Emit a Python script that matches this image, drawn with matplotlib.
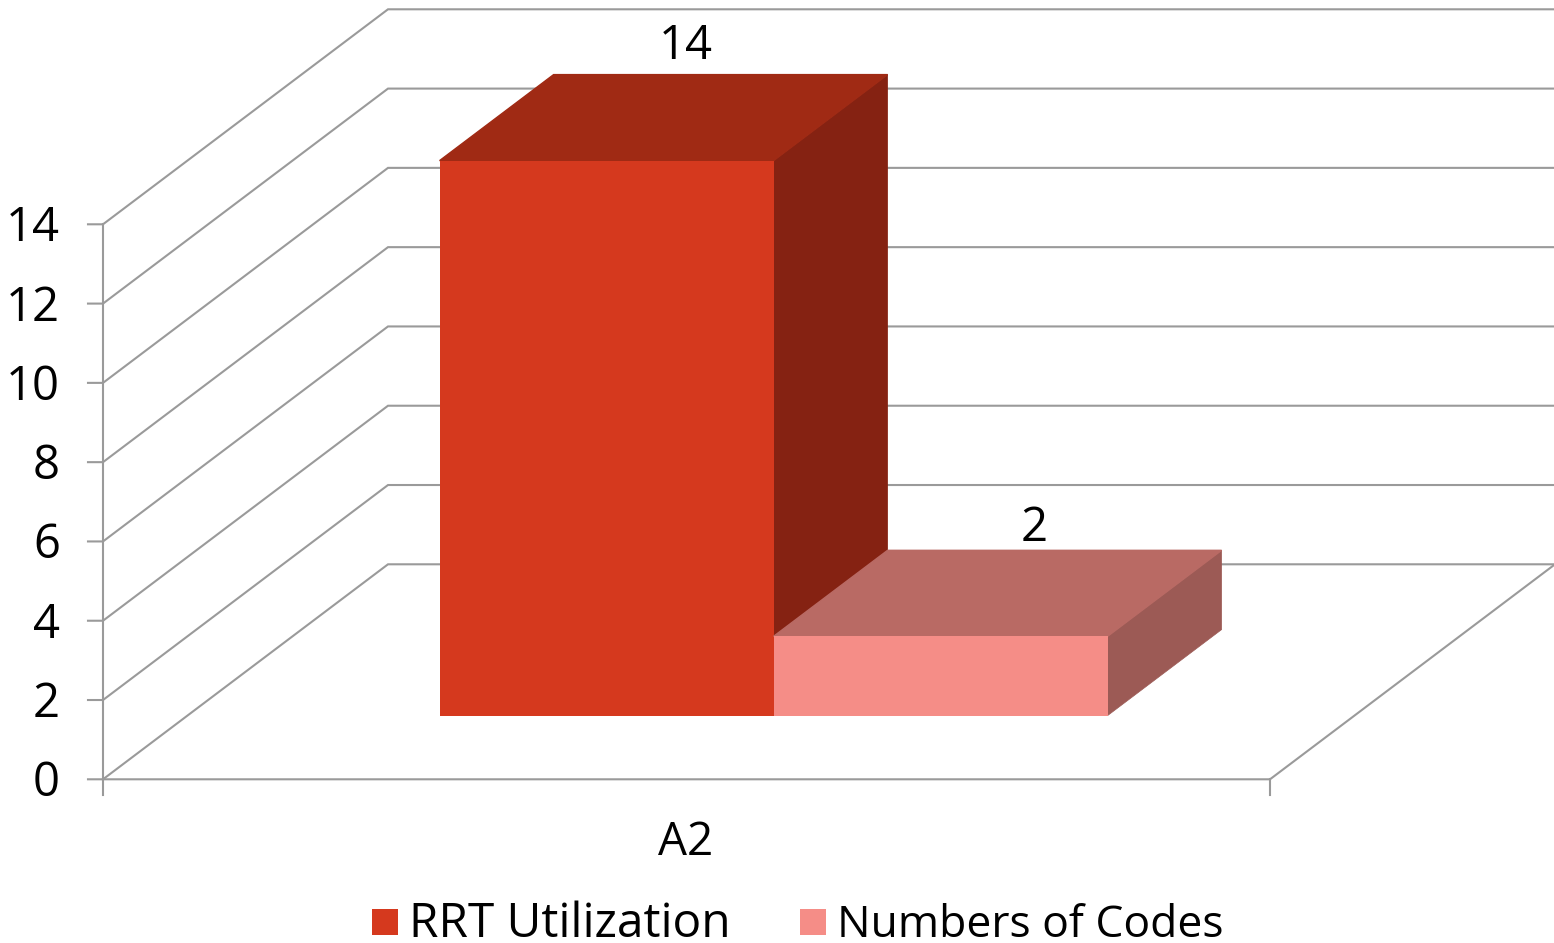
import matplotlib
matplotlib.use('Agg')
import matplotlib.pyplot as plt
from matplotlib.patches import Polygon

plt.rcParams['font.family'] = ['Open Sans', 'DejaVu Sans']

# data
category = 'A2'
series_names = ['RRT Utilization', 'Numbers of Codes']
series_values = [14, 2]
y_ticks = [0, 2, 4, 6, 8, 10, 12, 14]
face_colors = ['#D5391E', '#F58D87']
top_colors = ['#A02A14', '#B96A64']
side_colors = ['#852212', '#9C5A55']

# 3d box geometry in pixels
x0 = 103
x1 = 1270
y0 = 779.3
unit = 555 / 14
wall_dx = 285
wall_dy = 215
bar_left = 439.6
bar_w = 334
bar_base = 715.6
bar_dx = 114
bar_dy = 86
label_x = [686, 1034]
label_gap = [16, 9]
grid_color = '#9A9A9A'
text_size = 34
legend_sizes = [34.4, 32]


def val_y(v):
    return y0 - v * unit


fig = plt.figure(figsize=(15.54, 9.43), dpi=100)
ax = fig.add_axes([0, 0, 1, 1])
ax.set_xlim(0, 1554)
ax.set_ylim(943, 0)
ax.axis('off')

# wall and floor lines
for v in y_ticks:
    y = val_y(v)
    ax.plot([x0 - 15, x0, x0 + wall_dx, x1 + wall_dx], [y, y, y - wall_dy, y - wall_dy],
            color=grid_color, lw=1.5, solid_joinstyle='miter')
    ax.text(60, y + 17, str(v), ha='right', va='baseline', fontsize=text_size, color='black')
ax.plot([x0, x0], [val_y(0), val_y(y_ticks[-1])], color=grid_color, lw=1.5)
ax.plot([x0, x1, x1 + wall_dx], [y0, y0, y0 - wall_dy], color=grid_color, lw=1.5)
for x in [x0, x1]:
    ax.plot([x, x], [y0, y0 + 16], color=grid_color, lw=1.5)

# bars sit side by side, the edges on side and top go under the front face
for i, v in enumerate(series_values):
    left = bar_left + i * bar_w
    right = left + bar_w
    top = bar_base - v * unit
    ax.add_patch(Polygon([(right, bar_base), (right + bar_dx, bar_base - bar_dy),
                          (right + bar_dx, top - bar_dy), (right, top)],
                         fc=side_colors[i], ec=side_colors[i], lw=0.5, zorder=3 + i))
    ax.add_patch(Polygon([(left, top), (left + bar_dx, top - bar_dy),
                          (right + bar_dx, top - bar_dy), (right, top)],
                         fc=top_colors[i], ec=top_colors[i], lw=1, zorder=3 + i))
    ax.add_patch(Polygon([(left, bar_base), (left, top), (right, top), (right, bar_base)],
                         fc=face_colors[i], ec='none', zorder=3 + i))
    ax.text(label_x[i], top - bar_dy - label_gap[i], str(v), ha='center', va='baseline',
            fontsize=text_size, color='black', zorder=6)

ax.text(686, 855, category, ha='center', va='baseline', fontsize=33, color='black')

# legend
swatch_x = [372, 800]
for i, name in enumerate(series_names):
    ax.add_patch(Polygon([(swatch_x[i], 909), (swatch_x[i] + 26, 909),
                          (swatch_x[i] + 26, 935), (swatch_x[i], 935)],
                         fc=face_colors[i], ec='none'))
    ax.text(swatch_x[i] + 37, 937, name, ha='left', va='baseline', fontsize=legend_sizes[i], color='black')

fig.savefig('out.png', dpi=100)
